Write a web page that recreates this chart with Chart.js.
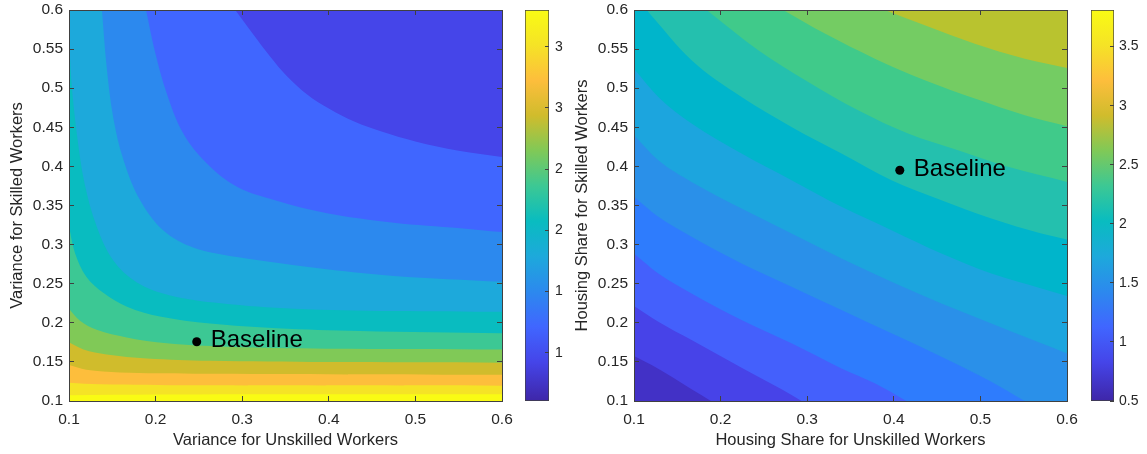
<!DOCTYPE html>
<html>
<head>
<meta charset="utf-8">
<script src="https://cdn.jsdelivr.net/npm/chart.js@4.4.1/dist/chart.umd.min.js"></script>
<style>
  html, body { margin: 0; padding: 0; background: #fff; }
  #wrap { position: relative; width: 1147px; height: 454px; overflow: hidden; }
  .box { position: absolute; top: 0; height: 454px; }
</style>
</head>
<body>
<div id="wrap">
  <div class="box" style="left:0;width:515px"><canvas id="leftPlot"></canvas></div>
  <div class="box" style="left:515px;width:49px"><canvas id="leftBar"></canvas></div>
  <div class="box" style="left:570px;width:510px"><canvas id="rightPlot"></canvas></div>
  <div class="box" style="left:1080px;width:67px"><canvas id="rightBar"></canvas></div>
</div>
<script>
// axis ticks (same for both panels)
const xTicks = [0.1, 0.2, 0.3, 0.4, 0.5, 0.6];
const yTicks = [0.1, 0.15, 0.2, 0.25, 0.3, 0.35, 0.4, 0.45, 0.5, 0.55, 0.6];

// colorbars
const leftBarRange = [0.605, 3.8];
const leftBarTicks = [1, 1.5, 2, 2.5, 3, 3.5];
const rightBarRange = [0.5, 3.81];
const rightBarTicks = [0.5, 1, 1.5, 2, 2.5, 3, 3.5];

// baseline markers
const leftBaseline = {x: 0.2475, y: 0.1758};
const rightBaseline = {x: 0.4069, y: 0.3951};

// left panel: contour lines, lowest level (top right) first, [x, y]
const varianceContours = [
  [[0.292,0.6],[0.312,0.57],[0.332,0.541],[0.352,0.515],[0.375,0.492],[0.40,0.474],[0.43,0.457],[0.46,0.445],[0.5,0.432],[0.55,0.42],[0.6,0.412]],
  [[0.189,0.6],[0.199,0.548],[0.213,0.493],[0.232,0.442],[0.259,0.404],[0.294,0.374],[0.340,0.356],[0.398,0.340],[0.475,0.328],[0.552,0.321],[0.6,0.316]],
  [[0.138,0.6],[0.1435,0.527],[0.151,0.463],[0.163,0.408],[0.182,0.357],[0.209,0.318],[0.244,0.296],[0.294,0.284],[0.344,0.276],[0.4,0.268],[0.475,0.26],[0.6,0.2525]],
  [[0.1,0.565],[0.103,0.506],[0.109,0.442],[0.118,0.378],[0.132,0.323],[0.151,0.280],[0.178,0.252],[0.217,0.235],[0.275,0.225],[0.360,0.218],[0.475,0.215],[0.6,0.214]],
  [[0.1,0.323],[0.107,0.289],[0.120,0.259],[0.140,0.238],[0.167,0.2205],[0.205,0.208],[0.263,0.199],[0.340,0.193],[0.436,0.1895],[0.6,0.1865]],
  [[0.1,0.218],[0.1127,0.2026],[0.132,0.191],[0.1666,0.1813],[0.213,0.1737],[0.282,0.1694],[0.398,0.1669],[0.6,0.166]],
  [[0.1,0.175],[0.1166,0.166],[0.1435,0.1596],[0.190,0.1545],[0.263,0.1515],[0.398,0.1498],[0.6,0.149]],
  [[0.1,0.146],[0.120,0.140],[0.159,0.1365],[0.244,0.135],[0.6,0.1336]],
  [[0.1,0.1234],[0.136,0.1213],[0.244,0.12],[0.6,0.1196]],
  [[0.1,0.1075],[0.3,0.1085],[0.6,0.1085]]
];

// right panel: contour lines, lowest level (bottom left) first, [x, y]
const housingContours = [
  [[0.1,0.1575],[0.1204,0.146],[0.1435,0.1311],[0.1665,0.1149],[0.1888,0.1]],
  [[0.1,0.2214],[0.1281,0.2014],[0.1665,0.1779],[0.205,0.1545],[0.2435,0.1311],[0.2704,0.1149],[0.2935,0.1]],
  [[0.1,0.2887],[0.1281,0.2631],[0.1665,0.2376],[0.2242,0.2035],[0.2819,0.1737],[0.3396,0.1417],[0.3781,0.1226],[0.4146,0.1]],
  [[0.1,0.3611],[0.1281,0.3355],[0.1665,0.31],[0.2242,0.2759],[0.2819,0.2461],[0.3396,0.2163],[0.3973,0.1865],[0.455,0.1567],[0.5127,0.1247],[0.5512,0.1]],
  [[0.1,0.4399],[0.1281,0.4079],[0.1665,0.3802],[0.2242,0.3462],[0.2819,0.3142],[0.3396,0.2823],[0.3973,0.2525],[0.455,0.2248],[0.5127,0.1992],[0.5704,0.1737],[0.6,0.1609]],
  [[0.1,0.525],[0.1281,0.4888],[0.1665,0.4548],[0.2242,0.4164],[0.2819,0.3824],[0.3396,0.3483],[0.3973,0.3185],[0.455,0.2887],[0.5127,0.2631],[0.5704,0.244],[0.6,0.2342]],
  [[0.1146,0.6],[0.1665,0.5357],[0.2242,0.4888],[0.2819,0.4505],[0.3396,0.4164],[0.3973,0.3824],[0.455,0.3568],[0.5127,0.3334],[0.5704,0.3142],[0.6,0.3066]],
  [[0.1838,0.6],[0.2435,0.5485],[0.3012,0.508],[0.3588,0.4718],[0.4165,0.442],[0.4742,0.4207],[0.5319,0.3994],[0.6,0.3802]],
  [[0.2723,0.6],[0.3204,0.5698],[0.3781,0.5378],[0.4358,0.5101],[0.4935,0.4867],[0.5512,0.4654],[0.6,0.4514]],
  [[0.3896,0.6],[0.4358,0.5804],[0.4935,0.557],[0.5512,0.5378],[0.6,0.5259]]
];

// band colours, lowest band first
const varianceBands = ['#4545E9','#4066FF','#2C89EE','#1DA9DB','#09BCC0','#3CC894','#80C957','#D0BC2C','#FDBE3C','#F5E326','#F9FB14'];
const housingBands = ['#4231C6','#4743E8','#4460FC','#2E7CFD','#2A90E9','#1CA5DE','#00B5CB','#24C0AE','#40CA8A','#74CC63','#B9C32F'];
const parulaStops = [[0,'#3E26A8'],[0.1,'#4545E9'],[0.19,'#4066FF'],[0.28,'#2C89EE'],[0.37,'#1DA9DB'],[0.46,'#09BCC0'],
  [0.55,'#3CC894'],[0.64,'#80C957'],[0.73,'#D0BC2C'],[0.82,'#FDBE3C'],[0.91,'#F5E326'],[1,'#F9FB14']];

const FONT = '"Liberation Sans", Arial, Helvetica, sans-serif';
const TEXT = '#262626';
const EDGE = '#404040';

function zeroPad(s) { s.paddingLeft = s.paddingRight = s.paddingTop = s.paddingBottom = 0; }
function useTicks(list) { return s => { s.ticks = list.map(v => ({value: v})); }; }
function pts(line) { return line.map(p => ({x: p[0], y: p[1]})); }

// smooth: 'bezier' for the steep left-panel curves, 'monotone' for the right panel
function band(line, color, fill, smooth) {
  const ds = {data: pts(line), fill: fill, backgroundColor: color, borderColor: color, borderWidth: 0, pointRadius: 0};
  if (smooth === 'monotone') ds.cubicInterpolationMode = 'monotone';
  else ds.tension = 0.35;
  return ds;
}

const baselineLabel = {
  id: 'baselineLabel',
  afterDatasetsDraw(chart) {
    const pt = chart.getDatasetMeta(0).data[0];
    const ctx = chart.ctx;
    ctx.save();
    ctx.font = '24px ' + FONT;
    ctx.fillStyle = '#000';
    ctx.textBaseline = 'middle';
    ctx.fillText('Baseline', pt.x + 14, pt.y - 1);
    ctx.restore();
  }
};

function plotScales(xTitle, yTitle, yWidth, yTitlePad) {
  const marks = {drawOnChartArea: false, tickLength: -5, color: EDGE, z: 1};
  const edge = {color: EDGE, width: 1, z: 1};
  const tickFont = {family: FONT, size: 15.5};
  const titleFont = {family: FONT, size: 16.5};
  return {
    x: {type: 'linear', position: 'bottom', min: 0.1, max: 0.6,
        afterBuildTicks: useTicks(xTicks), afterFit: s => { s.height = 53; zeroPad(s); },
        grid: marks, border: edge,
        ticks: {padding: 14, color: TEXT, font: tickFont, autoSkip: false, maxRotation: 0, callback: v => String(v)},
        title: {display: true, text: xTitle, color: TEXT, font: titleFont, padding: {top: 0, bottom: 4}}},
    xTop: {type: 'linear', position: 'top', min: 0.1, max: 0.6,
        afterBuildTicks: useTicks(xTicks), afterFit: s => { s.height = 0; zeroPad(s); },
        grid: marks, border: edge, ticks: {display: false}},
    y: {type: 'linear', position: 'left', min: 0.1, max: 0.6,
        afterBuildTicks: useTicks(yTicks), afterFit: s => { s.width = yWidth; zeroPad(s); },
        grid: marks, border: edge,
        ticks: {padding: 11, color: TEXT, font: tickFont, autoSkip: false, callback: v => String(v)},
        title: {display: true, text: yTitle, color: TEXT, font: titleFont, padding: {top: yTitlePad, bottom: 0}}},
    yRight: {type: 'linear', position: 'right', min: 0.1, max: 0.6,
        afterBuildTicks: useTicks(yTicks), afterFit: s => { s.width = 0; zeroPad(s); },
        grid: marks, border: edge, ticks: {display: false}}
  };
}

function contourPlot(id, datasets, xTitle, yTitle, yWidth, yTitlePad) {
  return new Chart(document.getElementById(id), {
    type: 'line',
    data: {datasets: datasets},
    options: {
      responsive: true, maintainAspectRatio: false, animation: false,
      layout: {padding: {top: 10, right: 13, bottom: 0, left: 0}},
      plugins: {legend: {display: false}, tooltip: {enabled: false}},
      scales: plotScales(xTitle, yTitle, yWidth, yTitlePad)
    },
    plugins: [baselineLabel]
  });
}

function marker(p) {
  return {data: [p], showLine: false, pointRadius: 4.5, pointBackgroundColor: '#000', pointBorderWidth: 0};
}

// left: each level fills the area above its line with the band beneath it
const leftSets = [marker(leftBaseline)];
varianceContours.forEach((line, i) => leftSets.push(band(line, varianceBands[i], 'end', 'bezier')));
leftSets.push(band([[0.1, 0.1], [0.6, 0.1]], varianceBands[10], 'end', 'bezier'));

// right: middle band as background, lower levels fill below, upper levels fill above
const rightSets = [marker(rightBaseline)];
for (let i = 0; i < 6; i++) rightSets.push(band(housingContours[i], housingBands[i], 'start', 'monotone'));
for (let i = 9; i >= 6; i--) rightSets.push(band(housingContours[i], housingBands[i + 1], 'end', 'monotone'));
rightSets.push(band([[0.1, 0.1], [0.6, 0.1]], housingBands[6], 'end', 'monotone'));

contourPlot('leftPlot', leftSets, 'Variance for Unskilled Workers', 'Variance for Skilled Workers', 69, 8);
contourPlot('rightPlot', rightSets, 'Housing Share for Unskilled Workers', 'Housing Share for Skilled Workers', 64, 3);

function barGradient(chart) {
  const a = chart.chartArea;
  if (!a) return parulaStops[0][1];
  const g = chart.ctx.createLinearGradient(0, a.bottom, 0, a.top);
  parulaStops.forEach(s => g.addColorStop(s[0], s[1]));
  return g;
}

function colorBar(id, range, ticks, padLeft, axisWidth, labelPad) {
  return new Chart(document.getElementById(id), {
    type: 'bar',
    data: {labels: [''], datasets: [{data: [range], backgroundColor: c => barGradient(c.chart),
      borderColor: EDGE, borderWidth: 1, borderSkipped: false, barPercentage: 1, categoryPercentage: 1}]},
    options: {
      responsive: true, maintainAspectRatio: false, animation: false,
      layout: {padding: {top: 10, right: 0, bottom: 53, left: padLeft}},
      plugins: {legend: {display: false}, tooltip: {enabled: false}},
      scales: {
        x: {display: false},
        y: {position: 'right', min: range[0], max: range[1],
            afterBuildTicks: useTicks(ticks), afterFit: s => { s.width = axisWidth; zeroPad(s); },
            grid: {drawOnChartArea: false, tickLength: -4, color: EDGE, z: 1},
            border: {display: false},
            ticks: {padding: labelPad, color: TEXT, font: {family: FONT, size: 14}, autoSkip: false, callback: v => String(v)}}
      }
    }
  });
}

colorBar('leftBar', leftBarRange, leftBarTicks, 10, 15, 10);
colorBar('rightBar', rightBarRange, rightBarTicks, 11, 33, 9);
</script>
</body>
</html>
